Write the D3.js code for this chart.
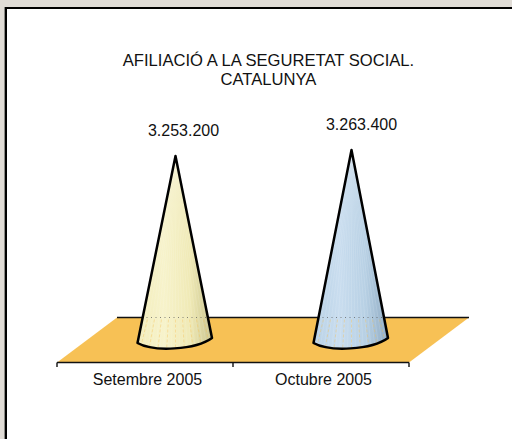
<!DOCTYPE html>
<html><head><meta charset="utf-8">
<script src="https://cdn.jsdelivr.net/npm/d3@7"></script>
<style>html,body{margin:0;padding:0;background:#fff}svg{display:block}text{font-family:"Liberation Sans",Arial,sans-serif;fill:#111}</style>
</head><body><div id="c"></div>
<script>
const titleLines = ["AFILIACIÓ A LA SEGURETAT SOCIAL.", "CATALUNYA"];
const categories = ["Setembre 2005", "Octubre 2005"];
const values = [3253200, 3263400];
const valueLabels = ["3.253.200", "3.263.400"];
const palettes = [
  ["#f3edbb", "#f7f3cb", "#f0eab6", "#c9c48e"],
  ["#b9d2e6", "#c9ddef", "#b7d0e4", "#8fabc3"]
];

const W = 512, H = 439;
const svg = d3.select("#c").append("svg").attr("width", W).attr("height", H);
svg.append("rect").attr("width", W).attr("height", H).attr("fill", "#e0dcd6");
svg.append("rect").attr("x", 4).attr("y", 7).attr("width", W).attr("height", H).attr("fill", "#8a8a86");
svg.append("rect").attr("x", 5).attr("y", 7).attr("width", W).attr("height", H).attr("fill", "#000");
svg.append("rect").attr("x", 7).attr("y", 9).attr("width", W).attr("height", H).attr("fill", "#fff");

const x = d3.scaleBand().domain(categories).range([57, 409]);
const y = d3.scaleLinear().domain([2942100, 3263400]).range([339, 150]);
const depthX = 60, depthY = 45, floorY = 362.5;
const backY = floorY - depthY;

// Floor
svg.append("path")
  .attr("d", d3.line()([[57, floorY], [409, floorY], [409 + depthX, backY], [57 + depthX, backY]]) + "Z")
  .attr("fill", "#f7c155");
svg.append("path").attr("d", d3.line()([[57 + depthX, backY], [409 + depthX, backY]]))
  .attr("stroke", "#111").attr("stroke-width", 1.4).attr("fill", "none");

// Axis
const axis = svg.append("g").attr("transform", `translate(0,${floorY})`);
axis.append("path").attr("d", "M57,0H409").attr("stroke", "#111").attr("stroke-width", 1.4);
axis.selectAll("line.t").data([57, 233, 409]).join("line").attr("class", "t")
  .attr("x1", d => d).attr("x2", d => d).attr("y1", 0).attr("y2", 4.5)
  .attr("stroke", "#111").attr("stroke-width", 1.4);
axis.selectAll("text").data(categories).join("text")
  .attr("x", d => x(d) + x.bandwidth() / 2 + 2.5).attr("y", 22.5)
  .attr("text-anchor", "middle").attr("font-size", 16).text(d => d);

// Gradients
const defs = svg.append("defs");
palettes.forEach((p, i) => {
  const g = defs.append("linearGradient").attr("id", "g" + i);
  [0, .35, .7, 1].forEach((o, j) => g.append("stop").attr("offset", o).attr("stop-color", p[j]));
});

// Cones
const conePath = (cx, tip) => {
  const p = d3.path();
  p.moveTo(cx, tip);
  p.lineTo(cx + 36.5, 338);
  p.bezierCurveTo(cx + 20, 350, cx - 22, 352, cx - 38, 343);
  p.closePath();
  return p.toString();
};
values.forEach((v, i) => {
  const c = categories[i], cx = x(c) + x.bandwidth() / 2 + 30.5, tip = y(v);
  const d = conePath(cx, tip);
  defs.append("clipPath").attr("id", "cl" + i).append("path").attr("d", d);
  const g = svg.append("g");
  g.append("path").attr("d", d).attr("fill", `url(#g${i})`);
  const inner = g.append("g").attr("clip-path", `url(#cl${i})`);
  // fine pleats running from the apex to the base
  inner.selectAll("line.s").data(d3.range(-36, 37, 4)).join("line").attr("class", "s")
    .attr("x1", cx).attr("y1", tip).attr("x2", o => cx + o).attr("y2", 352)
    .attr("stroke", "#fff").attr("stroke-opacity", .16).attr("stroke-width", .8);
  // the floor showing faintly through the lower part of the cone
  inner.selectAll("line.f").data(d3.range(-36, 37, 9)).join("line").attr("class", "f")
    .attr("x1", o => cx + o * .78).attr("y1", backY + 2).attr("x2", o => cx + o).attr("y2", 352)
    .attr("stroke", "#f7c155").attr("stroke-opacity", .4).attr("stroke-width", 1)
    .attr("stroke-dasharray", "3 2");
  // hidden back edge of the floor, seen through the cone
  inner.append("line").attr("x1", cx - 38).attr("x2", cx + 38)
    .attr("y1", backY).attr("y2", backY)
    .attr("stroke", "#555").attr("stroke-width", 1).attr("stroke-dasharray", "1 3.5").attr("stroke-opacity", .7);
  g.append("path").attr("d", d).attr("fill", "none").attr("stroke", "#000")
    .attr("stroke-width", 2.5).attr("stroke-linejoin", "round");
  svg.append("text").attr("x", cx + (i ? 10 : 8)).attr("y", tip - 20)
    .attr("text-anchor", "middle").attr("font-size", 16).text(valueLabels[i]);
});

// Title
svg.selectAll("text.title").data(titleLines).join("text").attr("class", "title")
  .attr("x", 268.5).attr("y", (d, i) => 66 + i * 19)
  .attr("text-anchor", "middle").attr("font-size", 16.6).text(d => d);
</script></body></html>
